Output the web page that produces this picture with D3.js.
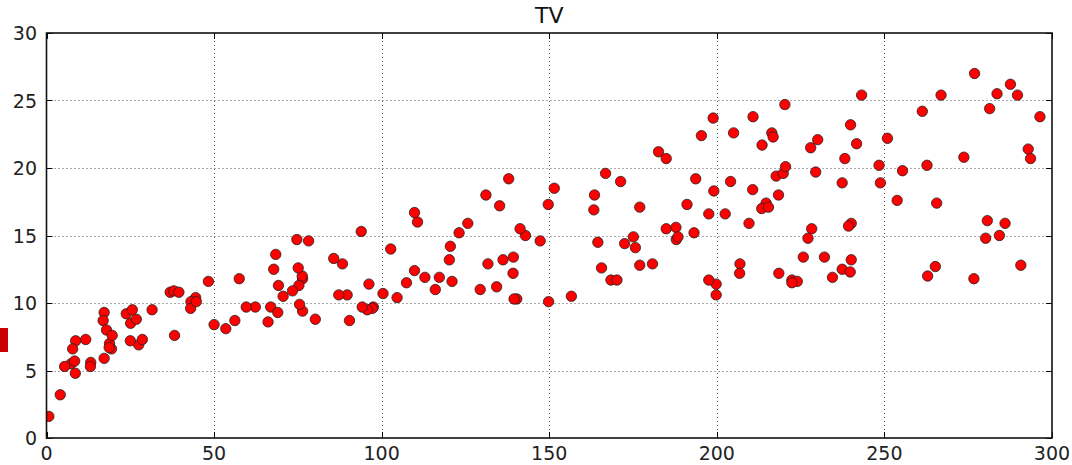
<!DOCTYPE html>
<html>
<head>
<meta charset="utf-8">
<script src="https://cdn.jsdelivr.net/npm/d3@7"></script>
<style>
  body { margin: 0; background: #fff; }
  svg { display: block; font-family: "DejaVu Sans", sans-serif; }
</style>
</head>
<body>
<div class="playground"></div>
<script>
// Advertising data: TV budget vs Sales
var tv = [230.1,44.5,17.2,151.5,180.8,8.7,57.5,120.2,8.6,199.8,66.1,214.7,23.8,97.5,204.1,195.4,67.8,281.4,69.2,147.3,
  218.4,237.4,13.2,228.3,62.3,262.9,142.9,240.1,248.8,70.6,292.9,112.9,97.2,265.6,95.7,290.7,266.9,74.7,43.1,228,
  202.5,177,293.6,206.9,25.1,175.1,89.7,239.9,227.2,66.9,199.8,100.4,216.4,182.6,262.7,198.9,7.3,136.2,210.8,210.7,
  53.5,261.3,239.3,102.7,131.1,69,31.5,139.3,237.4,216.8,199.1,109.8,26.8,129.4,213.4,16.9,27.5,120.5,5.4,116,
  76.4,239.8,75.3,68.4,213.5,193.2,76.3,110.7,88.3,109.8,134.3,28.6,217.7,250.9,107.4,163.3,197.6,184.9,289.7,135.2,
  222.4,296.4,280.2,187.9,238.2,137.9,25,90.4,13.1,255.4,225.8,241.7,175.7,209.6,78.2,75.1,139.2,76.4,125.7,19.4,
  141.3,18.8,224,123.1,229.5,87.2,7.8,80.2,220.3,59.6,0.7,265.2,8.4,219.8,36.9,48.3,25.6,273.7,43,184.9,
  73.4,193.7,220.5,104.6,96.2,140.3,240.1,243.2,38,44.7,280.7,121,197.6,171.3,187.8,4.1,93.9,149.8,11.7,131.7,
  172.5,85.7,188.4,163.5,117.2,234.5,17.9,206.8,215.4,284.3,50,164.5,19.6,168.4,222.4,276.9,248.4,170.2,276.7,165.6,
  156.6,218.5,56.2,287.6,253.8,205,139.5,191.1,286,18.7,39.5,75.5,17.2,166.8,149.7,38.2,94.2,177,283.6,232.1];
var sales = [22.1,10.4,9.3,18.5,12.9,7.2,11.8,13.2,4.8,10.6,8.6,17.4,9.2,9.7,19,22.4,12.5,24.4,11.3,14.6,
  18,12.5,5.6,15.5,9.7,12,15,15.9,18.9,10.5,21.4,11.9,9.6,17.4,9.5,12.8,25.4,14.7,10.1,21.5,
  16.6,17.1,20.7,12.9,8.5,14.9,10.6,23.2,14.8,9.7,11.4,10.7,22.6,21.2,20.2,23.7,5.5,13.2,23.8,18.4,
  8.1,24.2,15.7,14,18,9.3,9.5,13.4,18.9,22.3,18.3,12.4,8.8,11,17,8.7,6.9,14.2,5.3,11,
  11.8,12.3,11.3,13.6,21.7,15.2,12,16,12.9,16.7,11.2,7.3,19.4,22.2,11.5,16.9,11.7,15.5,25.4,17.2,
  11.7,23.8,14.8,14.7,20.7,19.2,7.2,8.7,5.3,19.8,13.4,21.8,14.1,15.9,14.6,12.6,12.2,9.4,15.9,6.6,
  15.5,7,11.6,15.2,19.7,10.6,6.6,8.8,24.7,9.7,1.6,12.7,5.7,19.6,10.8,11.6,9.5,20.8,9.6,20.7,
  10.9,19.2,20.1,10.4,11.4,10.3,13.2,25.4,10.9,10.1,16.1,11.6,16.6,19,15.6,3.2,15.3,10.1,7.3,12.9,
  14.4,13.3,14.9,18,11.9,11.9,8,12.2,17.1,15,8.4,14.5,7.6,11.7,11.5,27,20.2,11.7,11.8,12.6,
  10.5,12.2,8.7,26.2,17.6,22.6,10.3,17.3,15.9,6.7,10.8,9.9,5.9,19.6,17.3,7.6,9.7,12.8,25.5,13.4];
var xTicks = [0, 50, 100, 150, 200, 250, 300];
var yTicks = [0, 5, 10, 15, 20, 25, 30];

var W = 1072, H = 465;
var pLeft = 46.5, pRight = 1052, pTop = 33, pBottom = 438;

var svg = d3.select('.playground').append('svg')
  .attr('width', W).attr('height', H);

svg.append('clipPath').attr('id', 'plotclip')
  .append('rect').attr('x', pLeft).attr('y', pTop)
  .attr('width', pRight - pLeft).attr('height', pBottom - pTop);

var x = d3.scaleLinear().domain([0, 300]).range([pLeft, pRight]);
var y = d3.scaleLinear().domain([0, 30]).range([pBottom, pTop]);

// odd red tab on the left edge of the original image
svg.append('rect').attr('x', 0).attr('y', 328).attr('width', 8).attr('height', 24)
  .attr('fill', '#cc0000');

// dotted grid
var grid = svg.append('g').attr('stroke', '#555').attr('stroke-width', 1)
  .attr('stroke-dasharray', '1,3');
grid.selectAll('.gx').data(xTicks.slice(1, -1)).enter().append('line')
  .attr('x1', function(d){ return Math.round(x(d)) + 0.5; })
  .attr('x2', function(d){ return Math.round(x(d)) + 0.5; })
  .attr('y1', pTop).attr('y2', pBottom);
grid.selectAll('.gy').data(yTicks.slice(1, -1)).enter().append('line')
  .attr('y1', function(d){ return Math.round(y(d)) + 0.5; })
  .attr('y2', function(d){ return Math.round(y(d)) + 0.5; })
  .attr('x1', pLeft).attr('x2', pRight);

// inward ticks on all four sides
var tk = 6;
var ticks = svg.append('g').attr('stroke', '#000').attr('stroke-width', 1);
xTicks.forEach(function(d){
  var px = Math.round(x(d)) + 0.5;
  ticks.append('line').attr('x1', px).attr('x2', px).attr('y1', pBottom).attr('y2', pBottom - tk);
  ticks.append('line').attr('x1', px).attr('x2', px).attr('y1', pTop).attr('y2', pTop + tk);
});
yTicks.forEach(function(d){
  var py = Math.round(y(d)) + 0.5;
  ticks.append('line').attr('y1', py).attr('y2', py).attr('x1', pLeft).attr('x2', pLeft + tk);
  ticks.append('line').attr('y1', py).attr('y2', py).attr('x1', pRight).attr('x2', pRight - tk);
});

// points, clipped to the axes
svg.append('g').attr('clip-path', 'url(#plotclip)')
  .selectAll('circle')
  .data(tv.map(function(d, i){ return [d, sales[i]]; }))
  .enter()
  .append('circle')
  .attr('cx', function(d){ return x(d[0]); })
  .attr('cy', function(d){ return y(d[1]); })
  .attr('r', 5.2)
  .style('fill', '#ff0000')
  .style('stroke', '#222')
  .style('stroke-width', 0.8);

// frame
svg.append('rect').attr('x', pLeft).attr('y', pTop)
  .attr('width', pRight - pLeft).attr('height', pBottom - pTop)
  .attr('fill', 'none').attr('stroke', '#111').attr('stroke-width', 1.6);

// tick labels
svg.append('g').selectAll('text').data(xTicks).enter().append('text')
  .attr('x', function(d){ return x(d); })
  .attr('y', 460)
  .attr('text-anchor', 'middle')
  .attr('font-size', 19)
  .attr('fill', '#222')
  .text(function(d){ return d; });

svg.append('g').selectAll('text').data(yTicks).enter().append('text')
  .attr('x', 37)
  .attr('y', function(d){ return y(d) + 7; })
  .attr('text-anchor', 'end')
  .attr('font-size', 19)
  .attr('fill', '#222')
  .text(function(d){ return d; });

// title
svg.append('text').attr('x', (pLeft + pRight) / 2).attr('y', 23)
  .attr('text-anchor', 'middle')
  .attr('font-size', 22)
  .attr('fill', '#111')
  .text('TV');
</script>
</body>
</html>
